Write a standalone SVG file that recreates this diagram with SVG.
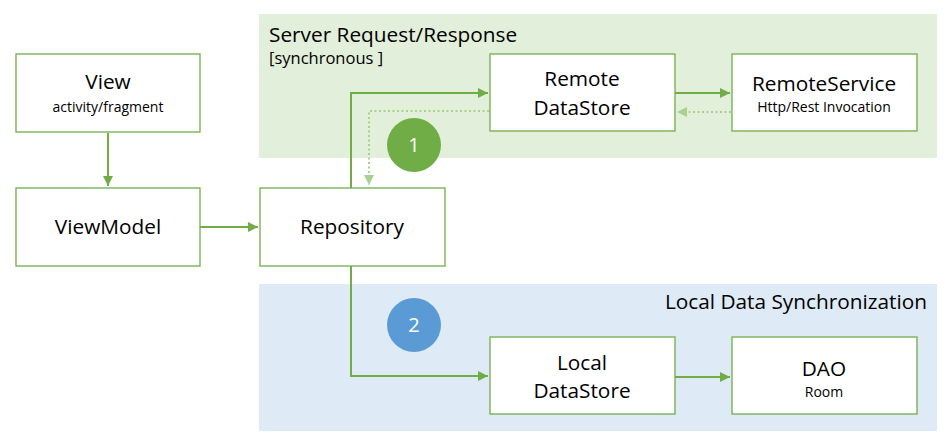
<svg xmlns="http://www.w3.org/2000/svg" width="951" height="446" viewBox="0 0 951 446">
<defs>
<style>
.box{fill:#fff;stroke:#70AD47;stroke-width:1.3}
.t{font-family:"Open Sans","Noto Sans",sans-serif;font-size:20.8px;fill:#000;text-anchor:middle}
.s{font-family:"Open Sans","Noto Sans",sans-serif;font-size:14px;fill:#000;text-anchor:middle}
.h{font-family:"Open Sans","Noto Sans",sans-serif;font-size:20.8px;fill:#000}
.c{stroke:#70AD47;stroke-width:2;fill:none}
.d{stroke:#A9D18E;stroke-width:2;fill:none;stroke-dasharray:2 2.5}
.n{font-family:"Open Sans","Noto Sans",sans-serif;font-size:20px;fill:#fff;text-anchor:middle}
</style>
<marker id="a" viewBox="0 0 10 10" refX="10" refY="5" markerWidth="5" markerHeight="5" orient="auto" markerUnits="strokeWidth"><path d="M0,0L10,5L0,10z" fill="#70AD47"/></marker>
<marker id="b" viewBox="0 0 10 10" refX="10" refY="5" markerWidth="5" markerHeight="5" orient="auto" markerUnits="strokeWidth"><path d="M0,0L10,5L0,10z" fill="#A9D18E"/></marker>
</defs>
<g id="regions">
<rect x="259" y="14" width="678" height="144" fill="#E2EFDA"/>
<rect x="259" y="284" width="678" height="147" fill="#DEEAF6"/>
<text class="h" x="269" y="42">Server Request/Response</text>
<text class="h" x="269" y="64" style="font-size:16.5px">[synchronous ]</text>
<text class="h" x="927" y="309" text-anchor="end">Local Data Synchronization</text>
</g>
<g id="connectors">
<path class="c" d="M108,133V186" marker-end="url(#a)"/>
<path class="c" d="M200,227H258" marker-end="url(#a)"/>
<path class="c" d="M351,188V93H488" marker-end="url(#a)"/>
<path class="d" d="M489,111H369V185" marker-end="url(#b)"/>
<path class="c" d="M675,93H730" marker-end="url(#a)"/>
<path class="d" d="M731,112H677" marker-end="url(#b)"/>
<path class="c" d="M351,266V376H488" marker-end="url(#a)"/>
<path class="c" d="M675,377H730" marker-end="url(#a)"/>
</g>
<g id="view"><rect class="box" x="16" y="54" width="184" height="78"/><text class="t" x="108" y="89">View</text><text class="s" x="108" y="112">activity/fragment</text></g>
<g id="viewmodel"><rect class="box" x="16" y="188" width="184" height="78"/><text class="t" x="108" y="234">ViewModel</text></g>
<g id="repository"><rect class="box" x="260" y="188" width="185" height="78"/><text class="t" x="352" y="234">Repository</text></g>
<g id="remote-datastore"><rect class="box" x="490" y="54" width="185" height="77"/><text class="t" x="582" y="86">Remote</text><text class="t" x="582" y="115">DataStore</text></g>
<g id="remote-service"><rect class="box" x="732" y="54" width="185" height="77"/><text class="t" x="824" y="91">RemoteService</text><text class="s" x="824" y="112">Http/Rest Invocation</text></g>
<g id="local-datastore"><rect class="box" x="490" y="337" width="185" height="77"/><text class="t" x="582" y="370">Local</text><text class="t" x="582" y="398">DataStore</text></g>
<g id="dao"><rect class="box" x="732" y="337" width="185" height="77"/><text class="t" x="824" y="376">DAO</text><text class="s" x="824" y="397">Room</text></g>
<g id="badge1"><ellipse cx="414" cy="145" rx="27" ry="27" fill="#70AD47"/><text class="n" x="414" y="152">1</text></g>
<g id="badge2"><ellipse cx="414" cy="325" rx="27" ry="27" fill="#5B9BD5"/><text class="n" x="414" y="332">2</text></g>
</svg>
